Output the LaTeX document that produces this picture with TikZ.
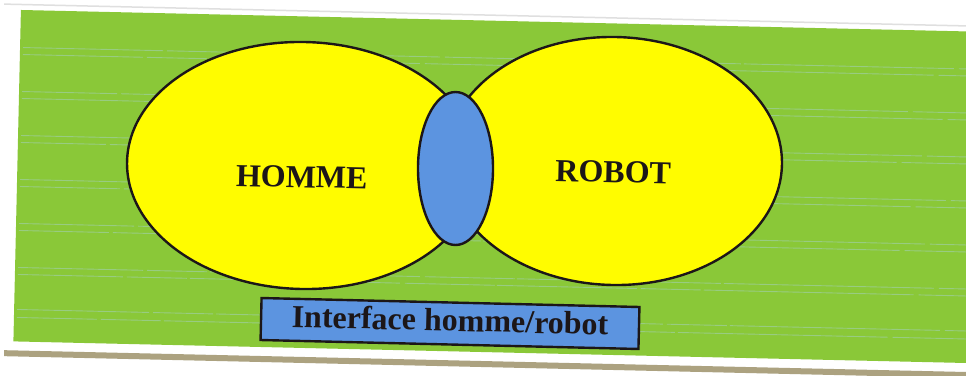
\documentclass[tikz,border=0pt]{standalone}
\usepackage{fontspec}
\setmainfont{Liberation Serif}
\usetikzlibrary{shapes.geometric}

\definecolor{fieldgreen}{RGB}{138,200,56}
\definecolor{sunyellow}{RGB}{255,252,0}
\definecolor{linkblue}{RGB}{92,148,224}
\definecolor{inkdark}{RGB}{28,22,24}
\definecolor{streak}{RGB}{170,210,220}
\definecolor{pageedge}{RGB}{172,162,128}

\begin{document}
\begin{tikzpicture}[x=1pt,y=-1pt,
  outline/.style={draw=inkdark,line width=2.4pt},
  zone/.style={ellipse,outline,fill=sunyellow,inner sep=0pt,rotate=-1.3},
  bigword/.style={font=\bfseries\fontsize{32}{36}\selectfont,text=inkdark,anchor=base,rotate=-1.3},
  scanline/.style={streak,line width=0.9pt,opacity=0.45}]
\useasboundingbox (0,0) rectangle (966,375);
\fill[white] (0,0) rectangle (966,375);

% green panel, slightly tilted, with the page edge below it
\begin{scope}[rotate around={-1.3:(483,187)}]
  \fill[pageedge] (8,361) rectangle (985,367);
  \draw[gray!25,line width=1.5pt] (0,15) -- (985,15);
  \fill[fieldgreen] (17,20.5) rectangle (985,352);
  \foreach \y/\ph in {58/0,65/20,102/45,109/10,146/30,153/55,190/5,197/40,
                      234/25,241/50,278/15,285/35,320/8,328/60}
    \draw[scanline,dash pattern=on 140pt off 4pt on 60pt off 3pt on 210pt off 5pt on 90pt off 2pt,
          dash phase=\ph pt] (20,\y) -- (980,\y);
\end{scope}

% the two domains and their shared interface
\node[zone,minimum width=352pt,minimum height=247pt] (homme) at (303,165.5) {};
\node[zone,minimum width=336pt,minimum height=248pt] (robot) at (614,161) {};
\node[ellipse,outline,fill=linkblue,inner sep=0pt,minimum width=75pt,minimum height=153pt]
  (iface) at (455.5,168.5) {};

\node[bigword] (hommelabel) at (301.5,187.5) {HOMME};
\node[bigword] (robotlabel) at (613,182.5) {ROBOT};

% caption box
\node[outline,fill=linkblue,rotate=-1.36,minimum width=378pt,minimum height=42pt,inner sep=0pt,
      font=\bfseries\fontsize{32}{36}\selectfont,text=inkdark,text height=15pt,text depth=0pt]
  (ifacebox) at (450,323.5) {Interface homme/robot};
\end{tikzpicture}
\end{document}
